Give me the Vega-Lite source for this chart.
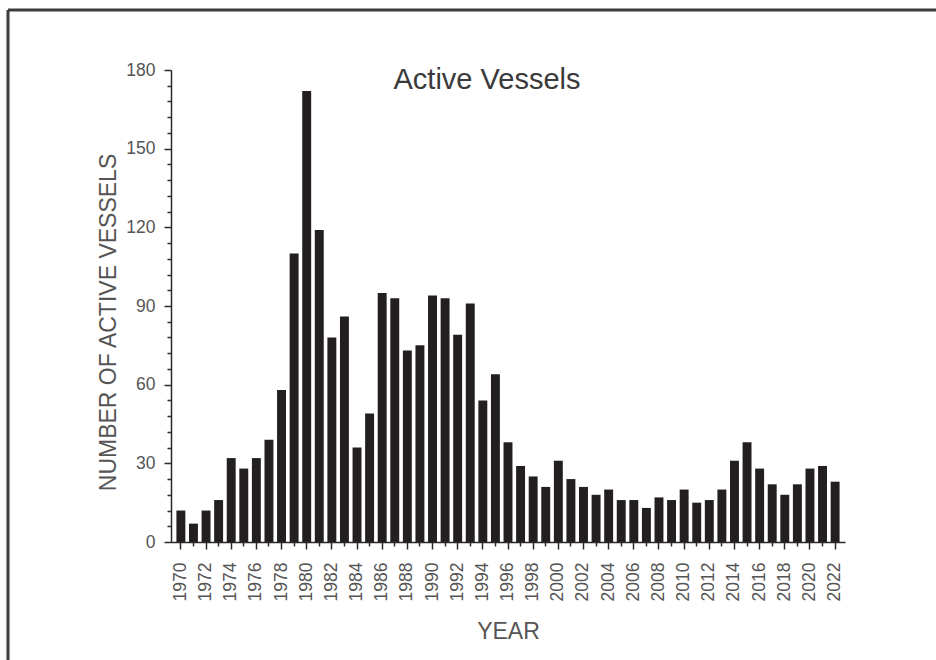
{
  "$schema": "https://vega.github.io/schema/vega-lite/v6.json",
  "autosize": {"type": "none"},
  "padding": {"left": 8, "top": 10, "right": 0, "bottom": 0},
  "width": 928,
  "height": 650,
  "background": "white",
  "config": {
    "font": "Liberation Sans",
    "view": {"stroke": "#3c3c3c", "strokeWidth": 3, "strokeDash": [928, 1578, 650, 0]}
  },
  "title": {
    "text": "Active Vessels",
    "frame": "group",
    "anchor": "middle",
    "orient": "top",
    "offset": -108,
    "dx": 15,
    "baseline": "alphabetic",
    "fontSize": 29,
    "fontWeight": "normal",
    "font": "Liberation Sans",
    "color": "#3a3a3a"
  },
  "data": {
    "values": [
      {"year": 1970, "vessels": 12}, {"year": 1971, "vessels": 7}, {"year": 1972, "vessels": 12},
      {"year": 1973, "vessels": 16}, {"year": 1974, "vessels": 32}, {"year": 1975, "vessels": 28},
      {"year": 1976, "vessels": 32}, {"year": 1977, "vessels": 39}, {"year": 1978, "vessels": 58},
      {"year": 1979, "vessels": 110}, {"year": 1980, "vessels": 172}, {"year": 1981, "vessels": 119},
      {"year": 1982, "vessels": 78}, {"year": 1983, "vessels": 86}, {"year": 1984, "vessels": 36},
      {"year": 1985, "vessels": 49}, {"year": 1986, "vessels": 95}, {"year": 1987, "vessels": 93},
      {"year": 1988, "vessels": 73}, {"year": 1989, "vessels": 75}, {"year": 1990, "vessels": 94},
      {"year": 1991, "vessels": 93}, {"year": 1992, "vessels": 79}, {"year": 1993, "vessels": 91},
      {"year": 1994, "vessels": 54}, {"year": 1995, "vessels": 64}, {"year": 1996, "vessels": 38},
      {"year": 1997, "vessels": 29}, {"year": 1998, "vessels": 25}, {"year": 1999, "vessels": 21},
      {"year": 2000, "vessels": 31}, {"year": 2001, "vessels": 24}, {"year": 2002, "vessels": 21},
      {"year": 2003, "vessels": 18}, {"year": 2004, "vessels": 20}, {"year": 2005, "vessels": 16},
      {"year": 2006, "vessels": 16}, {"year": 2007, "vessels": 13}, {"year": 2008, "vessels": 17},
      {"year": 2009, "vessels": 16}, {"year": 2010, "vessels": 20}, {"year": 2011, "vessels": 15},
      {"year": 2012, "vessels": 16}, {"year": 2013, "vessels": 20}, {"year": 2014, "vessels": 31},
      {"year": 2015, "vessels": 38}, {"year": 2016, "vessels": 28}, {"year": 2017, "vessels": 22},
      {"year": 2018, "vessels": 18}, {"year": 2019, "vessels": 22}, {"year": 2020, "vessels": 28},
      {"year": 2021, "vessels": 29}, {"year": 2022, "vessels": 23}
    ]
  },
  "mark": {"type": "bar", "color": "#231f20"},
  "encoding": {
    "x": {
      "field": "year",
      "type": "ordinal",
      "scale": {"range": [163, 837], "paddingInner": 0.29, "paddingOuter": 0.43},
      "axis": {
        "orient": "bottom",
        "offset": -118,
        "title": "YEAR",
        "titleFontSize": 23,
        "titleFontWeight": "normal",
        "titleColor": "#555555",
        "titleBaseline": "alphabetic",
        "titleY": 96,
        "bandPosition": 0.5,
        "labelAngle": 270,
        "labelAlign": "right",
        "labelBaseline": "middle",
        "labelFontSize": 17.5,
        "labelColor": "#555555",
        "labelPadding": 13,
        "labelOverlap": false,
        "labelExpr": "datum.value % 2 === 0 ? datum.label : ''",
        "tickSize": {"condition": {"test": "datum.value % 2 === 0", "value": 7}, "value": 4},
        "tickColor": "#2a2a2a",
        "tickWidth": 1.5,
        "domainColor": "#2a2a2a",
        "domainWidth": 1.5,
        "grid": false
      }
    },
    "y": {
      "field": "vessels",
      "type": "quantitative",
      "scale": {"domain": [0, 180], "range": [532, 60], "nice": false},
      "axis": {
        "orient": "left",
        "offset": -163,
        "title": "NUMBER OF ACTIVE VESSELS",
        "titleFontSize": 23,
        "titleFontWeight": "normal",
        "titleColor": "#555555",
        "titleAngle": 270,
        "titleAlign": "center",
        "titleBaseline": "middle",
        "titleX": -63,
        "titleY": 312,
        "values": [0, 6, 12, 18, 24, 30, 36, 42, 48, 54, 60, 66, 72, 78, 84, 90, 96, 102, 108, 114, 120, 126, 132, 138, 144, 150, 156, 162, 168, 174, 180],
        "labelExpr": "datum.value % 30 === 0 ? datum.label : ''",
        "labelFontSize": 17.5,
        "labelColor": "#555555",
        "labelPadding": 9,
        "labelOverlap": false,
        "tickSize": {"condition": {"test": "datum.value % 30 === 0", "value": 7}, "value": 4},
        "tickColor": "#2a2a2a",
        "tickWidth": 1.5,
        "domainColor": "#2a2a2a",
        "domainWidth": 1.5,
        "grid": false
      }
    }
  }
}
